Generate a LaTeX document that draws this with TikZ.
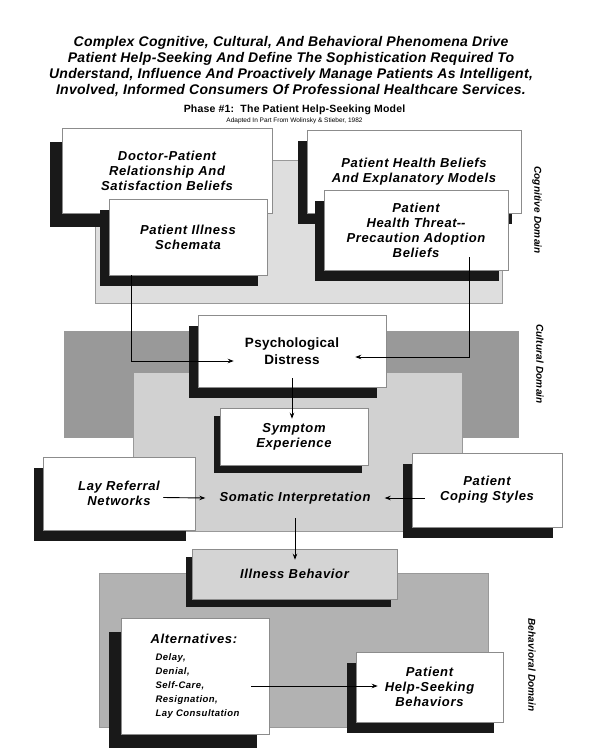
\documentclass[tikz,border=0pt]{standalone}
\usepackage{fontspec}
\setmainfont{Liberation Sans}
\newfontfamily\cardfont{Liberation Sans}[LetterSpace=5]
\newfontfamily\headfont{Liberation Sans}[LetterSpace=2]
\usetikzlibrary{positioning, arrows.meta, calc, shadows}

\begin{document}
\begin{tikzpicture}[
    x=1pt, y=-1pt,
    every node/.style={inner sep=0pt},
    cardbase/.style={
        rectangle,
        draw=black!45,
        fill=white,
        line width=0.5pt,
        align=center,
        font=\cardfont\bfseries\itshape\fontsize{13}{15}\selectfont
    },
    card/.style={
        cardbase,
        drop shadow={shadow xshift=-9pt, shadow yshift=-11pt, fill=black!90, opacity=1}
    },
    bigcard/.style={
        cardbase,
        drop shadow={shadow xshift=-12pt, shadow yshift=-14pt, fill=black!90, opacity=1}
    },
    lowcard/.style={
        cardbase,
        drop shadow={shadow xshift=-6pt, shadow yshift=-8pt, fill=black!90, opacity=1}
    },
    panel/.style={
        draw=black!40,
        line width=0.4pt
    },
    heading/.style={
        align=center,
        font=\headfont\bfseries\itshape\fontsize{14}{15.8}\selectfont
    },
    domainlabel/.style={
        rotate=-90,
        font=\headfont\bfseries\itshape\fontsize{10}{12}\selectfont
    },
    arrow/.style={
        -{Stealth[length=6pt,width=4.5pt]},
        line width=0.9pt,
        color=black
    }
]
\useasboundingbox (0,0) rectangle (595,756);

% Heading
\node[heading] (title) at (291,66.5) {Complex Cognitive, Cultural, And Behavioral Phenomena Drive\\
    Patient Help-Seeking And Define The Sophistication Required To\\
    Understand, Influence And Proactively Manage Patients As Intelligent,\\
    Involved, Informed Consumers Of Professional Healthcare Services.};
\node[font=\headfont\bfseries\fontsize{10.5}{12}\selectfont] (phase) at (294.5,110) {Phase \#1:\ \ The Patient Help-Seeking Model};
\node[font=\fontsize{6.5}{7.5}\selectfont, below=2.5pt of phase] (credit) {Adapted In Part From Wolinsky \& Stieber, 1982};

% Cognitive Domain
\draw[panel, fill=black!13] (95,160) rectangle (502,303);
\node[bigcard, minimum width=210pt, minimum height=85pt] (doctor) at (167,170.5) {Doctor-Patient\\Relationship And\\Satisfaction Beliefs};
\node[card, minimum width=214pt, minimum height=83pt] (beliefs) at (414,171.5) {Patient Health Beliefs\\And Explanatory Models};
\node[card, minimum width=158pt, minimum height=76pt] (schemata) at (188,237) {Patient Illness\\Schemata};
\node[card, minimum width=184pt, minimum height=80pt] (threat) at (416,230) {Patient\\Health Threat\mbox{-}\mbox{-}\\Precaution Adoption\\Beliefs};
\node[domainlabel] (cogdom) at (537,210) {Cognitive Domain};

% Cultural Domain
\draw[panel, fill=black!40] (64,331) rectangle (518,437);
\draw[panel, fill=black!18] (133,372) rectangle (462,531);
\node[card, font=\headfont\bfseries\fontsize{13.5}{17}\selectfont, minimum width=188pt, minimum height=72pt] (distress) at (292,351) {Psychological\\Distress};
\node[lowcard, minimum width=148pt, minimum height=57pt] (symptom) at (294,436.5) {Symptom\\Experience};
\node[card, minimum width=152pt, minimum height=73pt] (lay) at (119,493.5) {Lay Referral\\Networks};
\node[card, minimum width=150pt, minimum height=74pt] (coping) at (487,490) {Patient\\Coping Styles};
\node[font=\cardfont\bfseries\itshape\fontsize{13}{15}\selectfont, inner sep=14pt] (somatic) at (295,498) {Somatic Interpretation};
\node[domainlabel] (cultdom) at (540,364) {Cultural Domain};

% Behavioral Domain
\draw[panel, fill=black!30] (99,573) rectangle (488,727);
\node[lowcard, fill=black!17, minimum width=205pt, minimum height=50pt] (illness) at (294.5,574) {Illness Behavior};
\node[bigcard, align=left, minimum width=148pt, minimum height=116pt, font=\cardfont\bfseries\itshape\fontsize{9.5}{14}\selectfont] (alt) at (195,676)
    {{\fontsize{13}{15}\selectfont Alternatives:}\\[3pt]
     \hspace*{5pt}Delay,\\
     \hspace*{5pt}Denial,\\
     \hspace*{5pt}Self-Care,\\
     \hspace*{5pt}Resignation,\\
     \hspace*{5pt}Lay Consultation};
\node[card, minimum width=147pt, minimum height=70pt] (help) at (429.5,687) {Patient\\Help-Seeking\\Behaviors};
\node[domainlabel] (behdom) at (532,665) {Behavioral Domain};

% Flow between the domains
\draw[arrow] ($(schemata.south west)+(23,0)$) |- ($(distress.west)+(36,10)$);
\draw[arrow] ($(threat.south)+(53,-13)$) |- ($(distress.east)+(-31,6)$);
\draw[arrow] ($(distress.south)+(0,-9)$) -- ($(distress.south |- symptom.north)+(0,11)$);
\draw[arrow] ($(lay.east)+(-32,4)$) -- (somatic.west);
\draw[arrow] ($(coping.west)+(13,8)$) -- (somatic.east);
\draw[arrow] (somatic.south) -- ($(somatic.south |- illness.north)+(0,11)$);
\draw[arrow] ($(alt.east)+(-18,10)$) -- ($(help.west)+(22,-1)$);

\end{tikzpicture}
\end{document}
